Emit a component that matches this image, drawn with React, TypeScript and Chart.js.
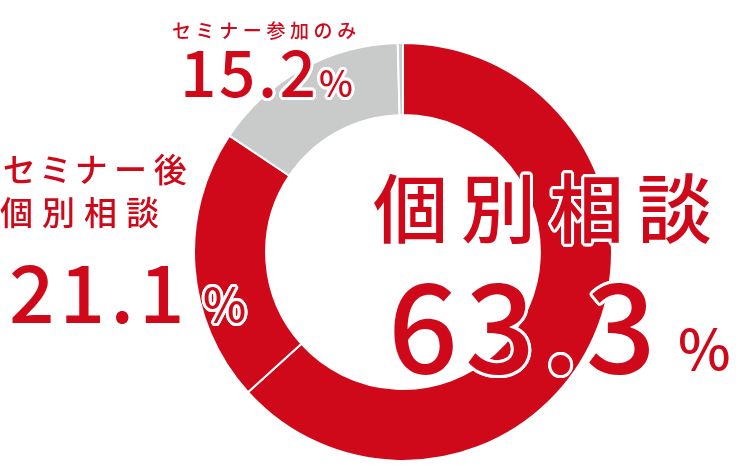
import { useEffect, useRef } from "react"
import { Chart, registerables } from "chart.js"

Chart.register(...registerables)

const RED = "#d0091a"
const GRAY = "#c9caca"

// segments clockwise from 12 o'clock
const categories = ["個別相談", "セミナー後個別相談", "セミナー参加のみ", "その他"]
const values = [63.3, 21.1, 15.2, 0.4]
const segmentColors = [RED, RED, GRAY, GRAY]

const outline = (r: number) => {
  const parts: string[] = []
  for (let i = 0; i < 16; i++) {
    const a = (i / 16) * Math.PI * 2
    parts.push(`${(Math.cos(a) * r).toFixed(2)}px ${(Math.sin(a) * r).toFixed(2)}px 0 #fff`)
  }
  return parts.join(",")
}

type Piece = {
  text: string
  left: number
  top: number
  size: number
  spacing: number
  palt?: boolean
}

const pieces: Piece[] = [
  { text: "セミナー参加のみ", left: 172, top: 19.5, size: 19, spacing: 4.6 },
  { text: values[2].toFixed(1), left: 180, top: 37, size: 64, spacing: 2.5 },
  { text: "%", left: 319, top: 63, size: 36, spacing: 0 },
  { text: "セミナー後", left: 3, top: 152, size: 33, spacing: 7, palt: true },
  { text: "個別相談", left: 0, top: 195, size: 33, spacing: 9 },
  { text: values[1].toFixed(1), left: 9, top: 248, size: 80, spacing: 5 },
  { text: "%", left: 203, top: 279, size: 46, spacing: 0 },
  { text: categories[0], left: 373, top: 167, size: 75, spacing: 13 },
  { text: values[0].toFixed(1), left: 388, top: 258, size: 123, spacing: 7 },
  { text: "%", left: 678, top: 318, size: 56, spacing: 0 },
]

export default function App() {
  const chartRef = useRef<HTMLCanvasElement>(null)
  const chartInstance = useRef<Chart | null>(null)

  useEffect(() => {
    if (!chartRef.current) return
    if (chartInstance.current) chartInstance.current.destroy()
    const ctx = chartRef.current.getContext("2d")
    if (!ctx) return

    chartInstance.current = new Chart(ctx, {
      type: "doughnut",
      data: {
        labels: categories,
        datasets: [
          {
            data: values,
            backgroundColor: segmentColors,
            borderColor: "#ffffff",
            borderWidth: 2,
          },
        ],
      },
      options: {
        responsive: true,
        maintainAspectRatio: false,
        animation: false,
        cutout: "65.5%",
        layout: { padding: 0 },
        plugins: {
          legend: { display: false },
          tooltip: { enabled: false },
        },
      },
    })

    return () => {
      if (chartInstance.current) {
        chartInstance.current.destroy()
        chartInstance.current = null
      }
    }
  }, [])

  const shadow = outline(3)

  return (
    <div
      style={{
        position: "absolute",
        left: 0,
        top: 0,
        width: 750,
        height: 465,
        background: "#fff",
        overflow: "hidden",
        fontFamily: "'Noto Sans CJK JP', 'Noto Sans', sans-serif",
        color: RED,
      }}
    >
      <div style={{ position: "absolute", left: 193, top: 42, width: 420, height: 420 }}>
        <canvas ref={chartRef} />
      </div>
      {pieces.map((p, i) => (
        <div
          key={i}
          style={{
            position: "absolute",
            left: p.left,
            top: p.top,
            fontSize: p.size,
            lineHeight: 1,
            letterSpacing: p.spacing,
            whiteSpace: "nowrap",
            fontWeight: 500,
            textShadow: shadow,
            fontFeatureSettings: p.palt ? '"palt"' : "normal",
          }}
        >
          {p.text}
        </div>
      ))}
    </div>
  )
}
